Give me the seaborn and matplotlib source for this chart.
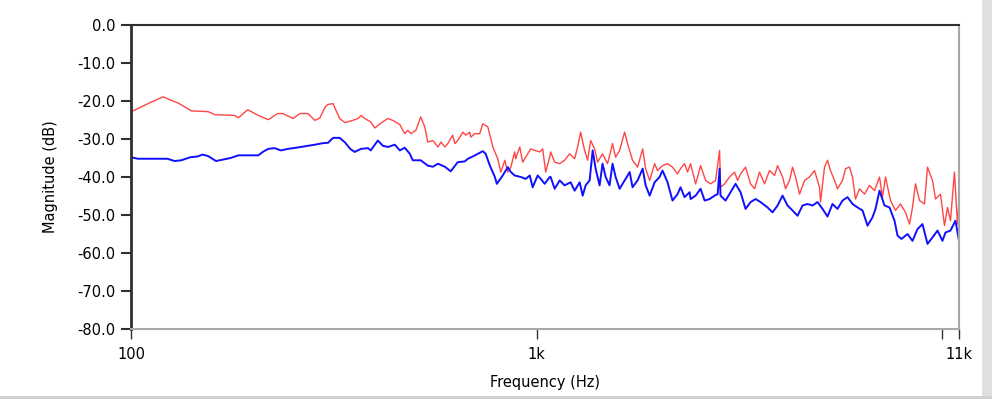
import matplotlib
matplotlib.use("Agg")
import matplotlib.pyplot as plt
from matplotlib.patches import Rectangle
from matplotlib.ticker import NullLocator
import pandas as pd
import seaborn as sns

# spectrum readings (Hz, dB)
red_hz = [100, 104, 111, 120, 131, 141, 155, 161, 180, 184, 194, 206, 218, 230, 237, 251, 261, 273, 284, 292,
          301, 306, 315, 320, 327, 337, 352, 363, 369, 377, 384, 390, 399, 411, 423, 430, 442, 460, 473, 481,
          490, 504, 518, 530, 539, 555, 571, 581, 594, 604, 621, 629, 639, 658, 669, 684, 688, 704, 724, 737,
          758, 780, 802, 816, 835, 849, 864, 883, 888, 909, 924, 940, 967, 989, 1018, 1035, 1053, 1077, 1083, 1108,
          1140, 1172, 1206, 1241, 1262, 1284, 1313, 1336, 1359, 1390, 1414, 1454, 1496, 1539, 1566, 1602, 1648, 1676, 1724, 1774,
          1826, 1857, 1900, 1954, 1987, 2044, 2103, 2163, 2226, 2264, 2316, 2356, 2397, 2466, 2494, 2537, 2610, 2685, 2762, 2826,
          2841, 2906, 2990, 3076, 3129, 3183, 3275, 3369, 3447, 3545, 3647, 3752, 3861, 3927, 4040, 4109, 4203, 4275, 4349, 4449,
          4577, 4708, 4844, 4983, 5012, 5127, 5215, 5304, 5426, 5519, 5678, 5776, 5908, 6010, 6113, 6253, 6434, 6619, 6809, 7005,
          7125, 7248, 7456, 7671, 7892, 8119, 8306, 8448, 8593, 8790, 9043, 9198, 9464, 9627, 9903, 10131, 10304, 10480, 10721, 10904,
          11000]
red_db = [-22.8, -22.0, -20.5, -18.9, -20.6, -22.6, -22.8, -23.6, -23.8, -24.4, -22.3, -23.8, -24.9, -23.3, -23.3, -24.6, -23.3, -23.3, -25.1, -24.5,
          -21.6, -20.9, -20.7, -22.4, -24.6, -25.7, -25.1, -24.6, -23.8, -24.6, -25.1, -25.5, -27.1, -26.0, -25.1, -24.6, -25.1, -26.2, -28.6, -27.7,
          -28.6, -27.7, -24.2, -26.8, -30.8, -30.4, -32.1, -30.8, -32.1, -31.2, -29.0, -31.2, -30.4, -28.2, -29.0, -28.2, -29.5, -28.6, -28.6, -26.0,
          -26.8, -32.1, -35.2, -38.7, -35.6, -38.7, -37.4, -33.4, -35.2, -32.1, -36.1, -34.8, -32.6, -33.0, -33.4, -32.6, -38.7, -34.8, -33.4, -36.1,
          -36.5, -35.6, -33.9, -35.2, -32.1, -28.2, -33.0, -35.6, -30.4, -32.6, -36.1, -33.9, -36.5, -31.2, -34.8, -33.0, -28.2, -31.2, -35.6, -37.4,
          -32.6, -37.8, -40.9, -36.5, -38.3, -37.0, -36.5, -37.4, -39.2, -37.8, -36.5, -38.7, -36.5, -41.8, -40.0, -37.0, -40.9, -41.8, -40.9, -33.0,
          -42.7, -41.8, -40.0, -38.7, -40.9, -39.2, -37.4, -41.8, -43.1, -38.7, -41.8, -38.3, -39.6, -37.0, -40.0, -43.1, -40.9, -37.4, -40.0, -44.5,
          -40.9, -40.0, -38.3, -42.7, -46.6, -37.4, -35.6, -38.3, -40.9, -43.1, -40.9, -37.8, -37.4, -40.0, -45.8, -43.1, -44.5, -42.2, -43.6, -40.0,
          -45.3, -40.0, -46.2, -48.8, -47.1, -49.3, -52.4, -48.0, -41.8, -46.2, -47.1, -37.4, -40.9, -45.8, -44.5, -52.8, -48.0, -51.5, -38.7, -52.4,
          -46.0]

blue_hz = [100, 104, 123, 128, 133, 140, 146, 150, 155, 162, 169, 176, 184, 206, 212, 218, 226, 234, 244, 262,
           284, 297, 306, 315, 327, 337, 347, 356, 369, 384, 390, 406, 418, 430, 447, 460, 473, 487, 495, 518,
           539, 555, 571, 594, 614, 639, 665, 677, 696, 716, 737, 749, 767, 789, 798, 825, 849, 864, 883, 914,
           940, 962, 978, 1006, 1024, 1047, 1077, 1083, 1108, 1140, 1172, 1213, 1241, 1277, 1299, 1321, 1351, 1375, 1398, 1430,
           1454, 1480, 1513, 1539, 1566, 1602, 1648, 1696, 1724, 1774, 1826, 1857, 1900, 1954, 2010, 2044, 2103, 2163, 2226, 2264,
           2316, 2383, 2397, 2466, 2537, 2596, 2670, 2747, 2795, 2826, 2841, 2923, 3007, 3094, 3183, 3275, 3369, 3466, 3565, 3709,
           3817, 3927, 4040, 4156, 4275, 4398, 4525, 4656, 4789, 4927, 5069, 5215, 5364, 5519, 5678, 5841, 6010, 6183, 6361, 6544,
           6732, 6848, 7005, 7207, 7414, 7628, 7759, 7937, 8212, 8448, 8692, 8941, 9198, 9464, 9736, 10016, 10188, 10480, 10781, 11000]
blue_db = [-34.8, -35.2, -35.2, -35.8, -35.6, -34.8, -34.6, -34.1, -34.5, -35.8, -35.4, -35.0, -34.3, -34.3, -33.3, -32.6, -32.4, -33.0, -32.6, -32.1,
           -31.5, -31.1, -31.0, -29.7, -29.7, -30.9, -32.6, -33.4, -32.6, -32.4, -33.0, -30.4, -31.8, -32.1, -31.5, -33.0, -32.3, -33.9, -35.6, -35.6,
           -37.0, -37.3, -36.5, -37.3, -38.5, -36.1, -35.9, -35.2, -34.6, -33.9, -33.2, -33.9, -37.0, -40.0, -41.8, -39.6, -37.4, -38.7, -39.6, -40.0,
           -40.5, -39.6, -42.7, -39.6, -40.5, -41.8, -40.0, -40.0, -43.1, -40.9, -42.2, -41.4, -43.6, -41.4, -44.9, -42.2, -40.9, -33.0, -37.8, -42.2,
           -36.5, -40.0, -42.2, -36.5, -40.0, -43.1, -40.9, -38.7, -42.7, -40.9, -37.8, -42.2, -44.9, -41.4, -40.0, -38.3, -41.4, -46.2, -44.5, -42.7,
           -45.3, -44.0, -45.8, -44.9, -43.1, -46.2, -45.8, -44.9, -44.5, -37.8, -44.9, -46.2, -44.0, -41.8, -44.0, -48.4, -46.6, -45.8, -46.6, -48.0,
           -49.3, -47.5, -44.9, -47.5, -48.8, -50.2, -47.5, -47.1, -47.5, -46.6, -48.4, -50.4, -47.1, -48.4, -46.2, -45.3, -47.1, -48.0, -48.8, -52.8,
           -50.6, -48.4, -43.6, -47.5, -48.0, -51.5, -55.4, -56.3, -55.0, -56.8, -53.7, -52.4, -57.6, -55.9, -54.1, -56.8, -54.6, -54.1, -51.5, -56.8]

x_ticks = [100, 1000, 10000, 11000]
x_labels = ["100", "1k", "", "11k"]
y_ticks = [0, -10, -20, -30, -40, -50, -60, -70, -80]

red_df = pd.DataFrame({"hz": red_hz, "db": red_db})
blue_df = pd.DataFrame({"hz": blue_hz, "db": blue_db})

sns.set_style("white")
plt.rcParams['font.family'] = ['DejaVu Sans']
plt.rcParams['text.color'] = "black"
plt.rcParams['axes.labelcolor'] = "black"
plt.rcParams['xtick.color'] = "black"
plt.rcParams['ytick.color'] = "black"

fig = plt.figure(figsize=(9.92, 3.99), dpi=100)
ax = fig.add_axes([131 / 992, 1 - 329 / 399, (959 - 131) / 992, (329 - 25) / 399])

sns.lineplot(data=red_df, x="hz", y="db", color="#ff4646", lw=1.0, ax=ax, estimator=None, sort=False)
sns.lineplot(data=blue_df, x="hz", y="db", color="#1010ff", lw=1.4, ax=ax, estimator=None, sort=False)

ax.set_xscale("log")
ax.set_xlim(100, 11000)
ax.set_ylim(-80, 0)
ax.set_xticks(x_ticks)
ax.set_xticklabels(x_labels)
ax.xaxis.set_minor_locator(NullLocator())
ax.set_yticks(y_ticks)
ax.set_yticklabels([f"{v:.1f}" for v in y_ticks])

for side in ["left", "top"]:
    ax.spines[side].set_color("#303030")
ax.spines["left"].set_linewidth(2)
ax.spines["top"].set_linewidth(1.5)
for side in ["right", "bottom"]:
    ax.spines[side].set_color("#a8a8a8")
    ax.spines[side].set_linewidth(1.5)

ax.tick_params(axis="y", direction="out", length=7, width=1.5, color="#303030", pad=4, labelsize=10.5, left=True)
ax.tick_params(axis="x", direction="out", length=7, width=1, color="#303030", pad=6, labelsize=10.5, bottom=True)

ax.set_xlabel("Frequency (Hz)", fontsize=10.5, labelpad=9)
ax.set_ylabel("Magnitude (dB)", fontsize=10.5, labelpad=14)

# panel edge
fig.add_artist(Rectangle((982 / 992, 0), 10 / 992, 1, transform=fig.transFigure, color="#e0e0e0", lw=0))
fig.add_artist(Rectangle((0, 0), 1, 3 / 399, transform=fig.transFigure, color="#d0d0d0", lw=0))

fig.savefig("out.png", dpi=100)
